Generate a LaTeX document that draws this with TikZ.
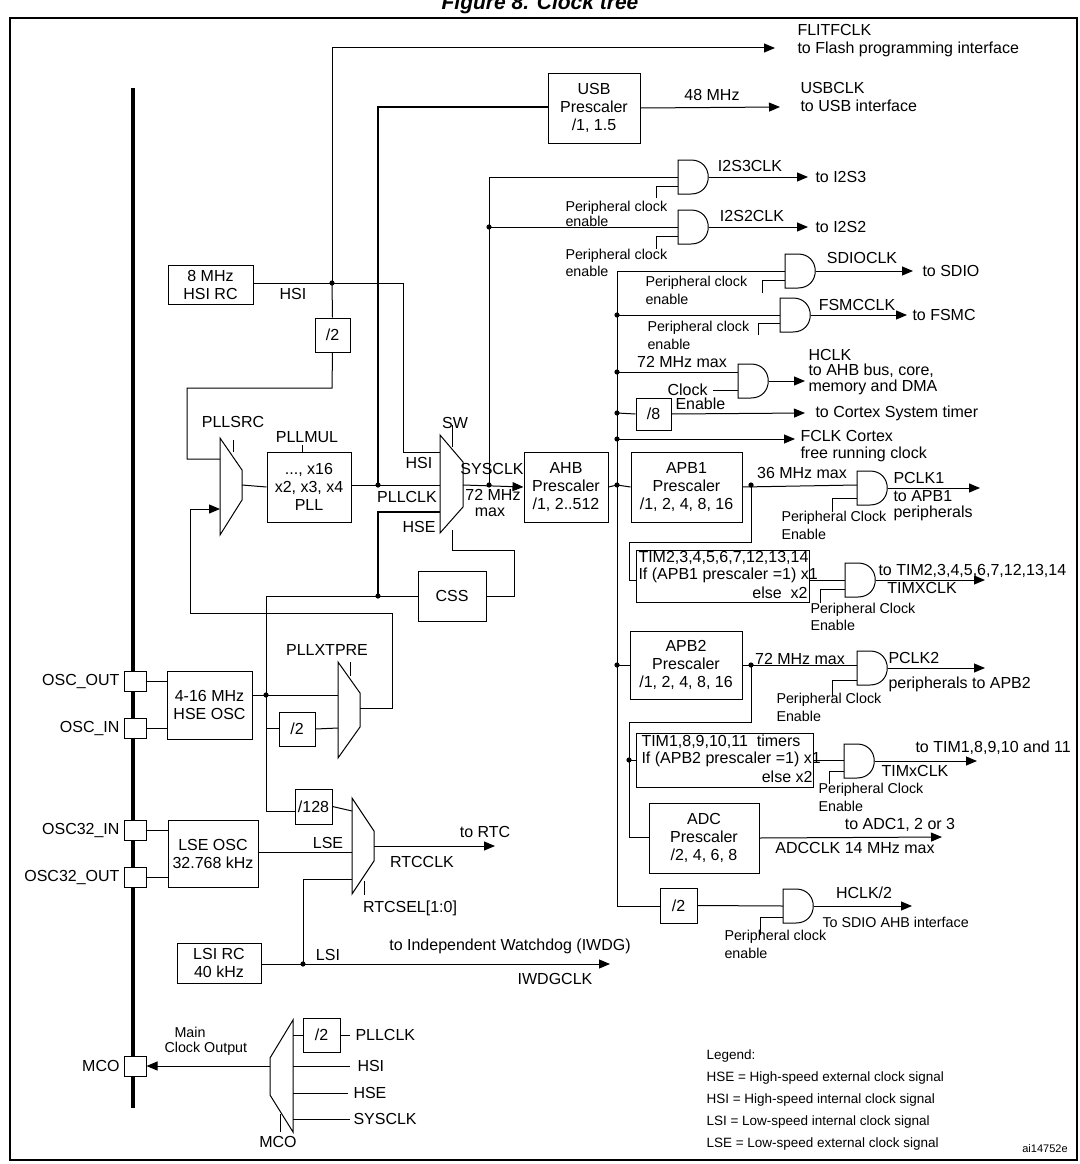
\documentclass[tikz,border=0pt]{standalone}
\usepackage{fontspec}
\setmainfont{Liberation Sans}
\usetikzlibrary{arrows.meta}
\begin{document}
\begin{tikzpicture}[x=1pt,y=-1pt,line width=1pt,
  every node/.style={inner sep=0pt,font=\fontsize{16}{17}\selectfont},
  box/.style={draw,align=center,font=\fontsize{16}{18}\selectfont},
  sm/.style={font=\fontsize{14.3}{15}\selectfont,align=left},
  lg/.style={font=\fontsize{13.5}{15}\selectfont,anchor=west},
  arr/.style={-{Triangle[length=11pt,width=9pt]}},
  thk/.style={line width=2pt}]
\useasboundingbox (0,0) rectangle (1079,1164);
\newcommand\pbox[6]{\node[box,minimum width={(#4-#2)*1pt},minimum height={(#5-#3)*1pt}] (#1) at ({(#2+#4)/2},{(#3+#5)/2}) {#6};}
\newcommand\andg[3]{\draw (#2,{#3-17}) -- ({#2+13},{#3-17}) .. controls ({#2+36},{#3-17}) and ({#2+36},{#3+17}) .. ({#2+13},{#3+17}) -- (#2,{#3+17}) -- cycle; \coordinate (#1) at ({#2+31},#3);}
\newcommand\dotat[2]{\fill (#1,#2) circle (2.6pt);}
\node[font=\bfseries\itshape\fontsize{21}{23}\selectfont] (title) at (540,4) {Figure 8. Clock tree};
\draw[line width=1.5pt] (10,18) rectangle (1077,1160);
% left bar
\draw[line width=3.5pt] (133,88) -- (133,1108);
% pads
\foreach \n/\y/\t in {po/681/OSC\_OUT,pi/728/OSC\_IN,p32i/830/OSC32\_IN,p32o/877/OSC32\_OUT,pm/1066/MCO}{
  \node[draw,fill=white,minimum width=22pt,minimum height=20pt] (\n) at (135,\y) {};
  \node[anchor=east] at (120,\y) {\t};}
% HSI
\pbox{hsi}{168}{265}{253}{304}{8 MHz\\HSI RC}
\draw (253,283) -- (403,283) -- (403,452) -- (440,452);
\node at (293,294) {HSI};
\dotat{332}{283}
\draw[arr] (332,283) -- (332,48) -- (775,48);
\node[anchor=west] at (797,30) {FLITFCLK};
\node[anchor=west] at (797,49) {to Flash programming interface};
\pbox{d2a}{315}{318}{350}{352}{/2}
\draw (332,283) -- (d2a.north);
\draw (d2a.south) -- (332,388) -- (187,388) -- (187,459) -- (220,459);
% PLLSRC
\draw (220,438) -- (242,470) -- (242,500) -- (220,535) -- cycle;
\draw (233,440) -- (233,452);
\node at (233,422) {PLLSRC};
\draw[arr] (190,613) -- (190,509) -- (220,509);
\pbox{pll}{267}{452}{351}{522}{..., x16\\x2, x3, x4\\PLL}
\draw (242,485) -- (pll.west);
\draw (302,445) -- (302,452);
\node at (307,437) {PLLMUL};
\draw (351,485) -- (440,485);
\node at (407,497) {PLLCLK};
\dotat{378}{485}
\draw[thk] (378,485) -- (378,107) -- (548,107);
\pbox{usb}{548}{73}{640}{143}{USB\\Prescaler\\/1, 1.5}
\draw[arr] (usb.east) -- (780,107);
\node at (712,95) {48 MHz};
\node[anchor=west] at (800,88) {USBCLK};
\node[anchor=west] at (800,106) {to USB interface};
% SW
\draw (440,435) -- (463,462) -- (463,507) -- (440,533) -- cycle;
\draw (452,425) -- (452,447);
\node at (455,423) {SW};
\node at (419,463) {HSI};
\node at (419,527) {HSE};
\draw[thk] (378,596) -- (378,512) -- (440,512);
\draw (452,530) -- (452,550) -- (514,550) -- (514,596) -- (486,596);
\pbox{css}{418}{571}{486}{621}{CSS}
\draw (css.west) -- (266,596) -- (266,811) -- (295,811);
\dotat{378}{596}
% SYSCLK
\pbox{ahb}{524}{452}{608}{522}{AHB\\Prescaler\\/1, 2..512}
\draw[arr] (463,485) -- (ahb.west);
\node at (492,469) {SYSCLK};
\node at (493,495) {72 MHz};
\node at (490,512) {max};
\dotat{489}{485}
\draw (489,485) -- (489,177) -- (678,177);
\dotat{489}{227}
\draw (489,227) -- (678,227);
% I2S
\andg{g3}{678}{177}
\draw[arr] (g3) -- (808,177);
\node at (750,166) {I2S3CLK};
\node[anchor=west] at (815,177) {to I2S3};
\draw (656,198) -- (656,186) -- (678,186);
\node[sm,anchor=west] at (565,208) {Peripheral clock};
\node[sm,anchor=west] at (565,221) {enable};
\andg{g2}{678}{227}
\draw[arr] (g2) -- (808,227);
\node at (752,216) {I2S2CLK};
\node[anchor=west] at (815,227) {to I2S2};
\draw (656,249) -- (656,236) -- (678,236);
\node[sm,anchor=west] at (565,256) {Peripheral clock};
\node[sm,anchor=west] at (565,271) {enable};
% AHB bus
\draw (ahb.east) -- (617,485);
\dotat{617}{485}
\draw (785,271) -- (617,271) -- (617,906) -- (660,906);
\andg{gs}{785}{271}
\draw[arr] (gs) -- (913,271);
\node at (862,258) {SDIOCLK};
\node[anchor=west] at (922,271) {to SDIO};
\draw (762,293) -- (762,280) -- (785,280);
\node[sm,anchor=west] at (645,283) {Peripheral clock};
\node[sm,anchor=west] at (645,299) {enable};
\dotat{617}{315}
\draw (617,315) -- (780,315);
\andg{gf}{780}{315}
\draw[arr] (gf) -- (907,315);
\node at (857,305) {FSMCCLK};
\node[anchor=west] at (912,315) {to FSMC};
\draw (758,335) -- (758,323) -- (780,323);
\node[sm,anchor=west] at (647,328) {Peripheral clock};
\node[sm,anchor=west] at (647,344) {enable};
\dotat{617}{372}
\draw (617,372) -- (738,372);
\andg{gh}{738}{381}
\draw[arr] (gh) -- (805,381);
\draw (713,390) -- (738,390);
\node at (682,362) {72 MHz max};
\node[anchor=east] at (708,390) {Clock};
\node[anchor=west] at (675,404) {Enable};
\node[anchor=west] at (808,355) {HCLK};
\node[anchor=west] at (808,371) {to AHB bus, core,};
\node[anchor=west] at (808,387) {memory and DMA};
\dotat{617}{413}
\pbox{d8}{636}{398}{671}{430}{/8}
\draw (617,413) -- (d8.west);
\draw[arr] (d8.east) -- (805,413);
\node[anchor=west] at (815,413) {to Cortex System timer};
\dotat{617}{439}
\draw[arr] (617,439) -- (795,439);
\node[anchor=west] at (800,436) {FCLK Cortex};
\node[anchor=west] at (800,454) {free running clock};
% APB1
\pbox{apb1}{631}{452}{742}{522}{APB1\\Prescaler\\/1, 2, 4, 8, 16}
\draw (617,485) -- (apb1.west);
\draw (apb1.east) -- (857,485);
\dotat{751}{485}
\andg{gp1}{857}{488}
\draw[arr] (gp1) -- (980,488);
\node at (802,473) {36 MHz max};
\node[anchor=west] at (893,478) {PCLK1};
\node[anchor=west] at (893,496) {to APB1};
\node[anchor=west] at (893,513) {peripherals};
\draw (832,512) -- (832,498) -- (857,498);
\node[sm,anchor=west] at (781,518) {Peripheral Clock};
\node[sm,anchor=west] at (781,534) {Enable};
\draw (751,485) -- (751,542) -- (629,542) -- (629,580) -- (636,580);
\pbox{tim1}{636}{550}{809}{602}{}
\node[anchor=west] at (638,558) {TIM2,3,4,5,6,7,12,13,14};
\node[anchor=west] at (638,575) {If (APB1 prescaler =1) x1};
\node[anchor=east] at (808,593) {else\ \ x2};
\draw (809,580) -- (845,580);
\andg{gt1}{845}{580}
\draw[arr] (gt1) -- (985,580);
\draw (820,603) -- (820,589) -- (845,589);
\node[anchor=west] at (878,571) {to TIM2,3,4,5,6,7,12,13,14};
\node at (922,588) {TIMXCLK};
\node[sm,anchor=west] at (810,610) {Peripheral Clock};
\node[sm,anchor=west] at (810,625) {Enable};
% APB2
\pbox{apb2}{630}{631}{742}{699}{APB2\\Prescaler\\/1, 2, 4, 8, 16}
\dotat{617}{665}
\draw (617,665) -- (apb2.west);
\draw (742,665) -- (857,665);
\dotat{751}{665}
\andg{gp2}{857}{668}
\draw[arr] (gp2) -- (985,668);
\node at (800,659) {72 MHz max};
\node[anchor=west] at (888,658) {PCLK2};
\node[anchor=west] at (888,684) {peripherals to APB2};
\draw (832,697) -- (832,680) -- (857,680);
\node[sm,anchor=west] at (776,700) {Peripheral Clock};
\node[sm,anchor=west] at (776,716) {Enable};
\draw (751,665) -- (751,722) -- (629,722) -- (629,837) -- (649,837);
\dotat{629}{760}
\draw (629,760) -- (636,760);
\pbox{tim2}{636}{733}{813}{787}{}
\node[anchor=west] at (641,742) {TIM1,8,9,10,11\ \ timers};
\node[anchor=west] at (641,759) {If (APB2 prescaler =1) x1};
\node[anchor=east] at (813,777) {else x2};
\draw (813,760) -- (844,760);
\andg{gt2}{844}{761}
\draw[arr] (gt2) -- (977,761);
\draw (829,784) -- (829,771) -- (844,771);
\node[anchor=west] at (915,748) {to TIM1,8,9,10 and 11};
\node at (915,771) {TIMxCLK};
\node[sm,anchor=west] at (818,790) {Peripheral Clock};
\node[sm,anchor=west] at (818,806) {Enable};
\pbox{adc}{649}{803}{759}{873}{ADC\\Prescaler\\/2, 4, 6, 8}
\draw[arr] (adc.east) -- (942,837);
\node at (900,825) {to ADC1, 2 or 3};
\node at (855,848) {ADCCLK 14 MHz max};
\pbox{d2b}{660}{888}{697}{923}{/2}
\draw (d2b.east) -- (783,906);
\andg{gh2}{783}{906}
\draw[arr] (gh2) -- (912,906);
\draw (760,935) -- (760,917) -- (783,917);
\node at (864,893) {HCLK/2};
\node[sm,anchor=west] at (822,922) {To SDIO AHB interface};
\node[sm,anchor=west] at (724,937) {Peripheral clock};
\node[sm,anchor=west] at (724,953) {enable};
% HSE OSC
\pbox{hse}{167}{671}{252}{739}{4-16 MHz\\HSE OSC}
\draw (po.east) -- (167,681);
\draw (pi.east) -- (167,728);
\draw (252,695) -- (338,695);
\dotat{266}{695}
\draw (266,728) -- (279,728);
\pbox{d2c}{279}{712}{315}{746}{/2}
\draw (d2c.east) -- (338,728);
\draw (338,662) -- (360,693) -- (360,727) -- (338,758) -- cycle;
\draw (350,662) -- (350,676);
\node at (327,650) {PLLXTPRE};
\draw (360,708) -- (392,708) -- (392,613) -- (190,613);
% RTC
\pbox{d128}{295}{789}{332}{824}{/128}
\draw (d128.east) -- (352,811);
\draw (352,798) -- (374,831) -- (374,861) -- (352,894) -- cycle;
\draw[arr] (374,846) -- (495,846);
\node at (485,832) {to RTC};
\node at (422,862) {RTCCLK};
\draw (364,881) -- (364,895);
\node at (410,908) {RTCSEL[1:0]};
\pbox{lse}{168}{820}{258}{887}{LSE OSC\\32.768 kHz}
\draw (p32i.east) -- (168,830);
\draw (p32o.east) -- (168,877);
\draw (258,852) -- (352,852);
\node at (328,843) {LSE};
\pbox{lsi}{177}{943}{261}{983}{LSI RC\\40 kHz}
\draw[arr] (261,964) -- (610,964);
\dotat{303}{964}
\draw (303,964) -- (303,879) -- (352,879);
\node at (328,955) {LSI};
\node at (510,946) {to Independent Watchdog (IWDG)};
\node at (555,979) {IWDGCLK};
% MCO
\draw (293,1020) -- (270,1058) -- (270,1095) -- (293,1132) -- cycle;
\draw[arr] (270,1066) -- (pm.east);
\draw (280,1114) -- (280,1132);
\node at (278,1142) {MCO};
\node[sm,anchor=west] at (174,1032) {Main};
\node[sm,anchor=west] at (164,1049) {Clock Output};
\pbox{d2d}{303}{1018}{340}{1052}{/2}
\draw (293,1035) -- (d2d.west);
\draw (d2d.east) -- (350,1035);
\node[anchor=west] at (355,1035) {PLLCLK};
\draw (293,1066) -- (350,1066);
\node[anchor=west] at (357,1066) {HSI};
\draw (293,1093) -- (348,1093);
\node[anchor=west] at (353,1093) {HSE};
\draw (293,1119) -- (350,1119);
\node[anchor=west] at (353,1119) {SYSCLK};
% legend
\node[lg] at (706,1056) {Legend:};
\node[lg] at (706,1078) {HSE = High-speed external clock signal};
\node[lg] at (706,1100) {HSI = High-speed internal clock signal};
\node[lg] at (706,1122) {LSI = Low-speed internal clock signal};
\node[lg] at (706,1144) {LSE = Low-speed external clock signal};
\node[font=\fontsize{11}{12}\selectfont] at (1045,1149) {ai14752e};
\end{tikzpicture}
\end{document}
